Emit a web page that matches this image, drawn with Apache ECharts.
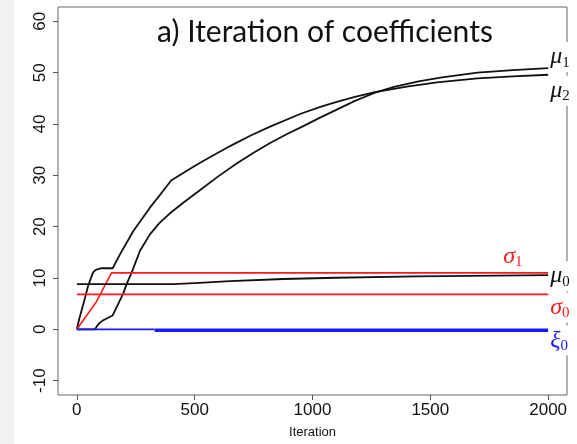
<!DOCTYPE html>
<html>
<head>
<meta charset="utf-8">
<script src="https://cdn.jsdelivr.net/npm/echarts@6/dist/echarts.min.js"></script>
<style>
	html, body { margin: 0; padding: 0; background: #fff; }
	#chart { width: 577px; height: 444px; }
</style>
</head>
<body>
<div id="chart"></div>
<script>
	// values (iteration, coefficient)
	var xTicks = [0, 500, 1000, 1500, 2000];
	var yTicks = [-10, 0, 10, 20, 30, 40, 50, 60];

	// late riser, ends on top -> mu1
	var mu1Iter = [0, 77, 88, 98, 112, 152, 197, 211, 232, 268, 310, 350, 395, 450, 522, 600, 678, 750, 820, 890, 961, 1030, 1103, 1180, 1265, 1350, 1450, 1550, 1700, 1850, 2000];
	var mu1Val  = [0, 0, 0.8, 1.3, 1.75, 2.7, 7.0, 8.8, 11.0, 15.3, 18.5, 20.7, 22.6, 24.6, 27.1, 29.8, 32.3, 34.4, 36.3, 38.0, 39.6, 41.2, 42.8, 44.5, 46.1, 47.3, 48.3, 49.1, 50.0, 50.5, 50.9];
	// early riser, ends below -> mu2
	var mu2Iter = [0, 10, 30, 48, 69, 80, 105, 152, 183, 239, 310, 360, 400, 470, 536, 650, 740, 820, 950, 1030, 1103, 1180, 1265, 1400, 1528, 1700, 1850, 2000];
	var mu2Val  = [0, 2.0, 5.3, 8.5, 11.1, 11.6, 11.9, 11.9, 14.6, 19.1, 23.7, 26.6, 29.0, 31.0, 32.8, 35.7, 37.8, 39.5, 42.0, 43.3, 44.3, 45.3, 46.2, 47.3, 48.1, 48.9, 49.3, 49.6];
	var mu0Iter = [0, 409, 500, 650, 876, 1100, 1442, 2000];
	var mu0Val  = [8.8, 8.8, 9.0, 9.4, 9.8, 10.05, 10.3, 10.56];
	var sig1Iter = [0, 40, 82, 147, 2000];
	var sig1Val  = [0, 2.6, 5.3, 11.0, 11.0];
	var sig0Iter = [0, 2000];
	var sig0Val  = [6.8, 6.8];
	var xiIter = [0, 330];
	var xiVal  = [0, 0];
	var xiIter2 = [330, 2000];
	var xiVal2  = [-0.2, -0.2];

	function pairs(xs, ys) {
		return xs.map(function (x, i) { return [x, ys[i]]; });
	}

	function endLab(sym, sub, color, off, bg) {
		return {
			show: true,
			distance: 1,
			offset: off,
			formatter: '{m|' + sym + '}{s|' + sub + '}',
			backgroundColor: bg ? '#fff' : 'transparent',
			padding: [2, 6, 2, 1],
			rich: {
				m: { fontFamily: 'Liberation Serif', fontStyle: 'italic', fontSize: 24, color: color, lineHeight: 26 },
				s: { fontFamily: 'Liberation Serif', fontSize: 15, color: color, lineHeight: 26, verticalAlign: 'bottom' }
			}
		};
	}

	function line(name, data, color, width, lab) {
		return {
			name: name,
			type: 'line',
			data: data,
			symbol: 'none',
			lineStyle: { color: color, width: width, join: 'round' },
			endLabel: lab || { show: false },
			labelLayout: { hideOverlap: false }
		};
	}

	var myChart = echarts.init(document.getElementById('chart'));
	var tickStyle = { color: '#555', width: 1 };
	var option = {
		animation: false,
		backgroundColor: '#fff',
		graphic: [{
			type: 'rect',
			left: 0, top: 0,
			shape: { width: 14, height: 444 },
			style: { fill: '#f2f2f2' },
			silent: true
		}],
		title: {
			text: 'a) Iteration of coefficients',
			left: 320,
			top: 12,
			textAlign: 'center',
			textStyle: { fontFamily: 'Lato', fontWeight: 'normal', fontSize: 30, color: '#111' }
		},
		grid: {
			left: 58, right: 10, top: 7, bottom: 46,
			show: true,
			borderColor: '#666',
			borderWidth: 1
		},
		xAxis: {
			type: 'value',
			min: -80, max: 2080,
			name: 'Iteration',
			nameLocation: 'middle',
			nameGap: 31,
			nameTextStyle: { fontFamily: 'Liberation Sans', fontSize: 13, color: '#111' },
			axisLine: { show: false, onZero: false },
			splitLine: { show: false },
			axisTick: { show: true, inside: false, length: 5, lineStyle: tickStyle, customValues: xTicks },
			axisLabel: {
				fontFamily: 'Liberation Sans', fontSize: 17, color: '#111', margin: 7, customValues: xTicks,
				formatter: function (v) { return String(v); }
			}
		},
		yAxis: {
			type: 'value',
			min: -12.8, max: 62.8,
			axisLine: { show: false, onZero: false },
			splitLine: { show: false },
			axisTick: { show: true, inside: false, length: 5, lineStyle: tickStyle, customValues: yTicks },
			axisLabel: {
				fontFamily: 'Liberation Sans', fontSize: 17, color: '#111', margin: 9, rotate: 90, customValues: yTicks,
				formatter: function (v) { return String(v); }
			}
		},
		series: [
			line('mu2', pairs(mu2Iter, mu2Val), '#111', 1.8, endLab('μ', '2', '#111', [0, 16], true)),
			line('mu1', pairs(mu1Iter, mu1Val), '#111', 1.8, endLab('μ', '1', '#111', [0, -11], true)),
			line('sigma1', pairs(sig1Iter, sig1Val), '#ff1a1a', 1.6, endLab('σ', '1', '#ff1a1a', [-47, -16], false)),
			line('mu0', pairs(mu0Iter, mu0Val), '#111', 1.8, endLab('μ', '0', '#111', [0, 1], true)),
			line('sigma0', pairs(sig0Iter, sig0Val), '#ff1a1a', 1.6, endLab('σ', '0', '#ff1a1a', [0, 13], true)),
			line('xi0a', pairs(xiIter, xiVal), '#1a1aff', 1.8),
			line('xi0', pairs(xiIter2, xiVal2), '#1a1aff', 3.5, endLab('ξ', '0', '#1a1aff', [0, 10], true))
		]
	};
	myChart.setOption(option);
</script>
</body>
</html>
